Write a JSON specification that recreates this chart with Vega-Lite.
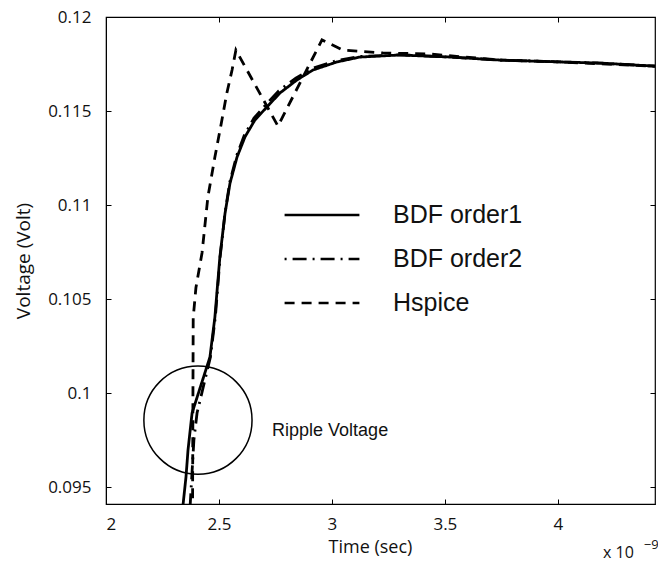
{
  "$schema": "https://vega.github.io/schema/vega-lite/v6.json",
  "width": 549,
  "height": 487,
  "autosize": "none",
  "padding": {"left": 106, "top": 17, "right": 3, "bottom": 62},
  "background": "white",
  "config": {
    "view": {"stroke": "black", "strokeWidth": 1.2},
    "axis": {"grid": false, "domainColor": "black", "tickColor": "black", "labelColor": "#111", "titleColor": "#111", "labelFont": "Open Sans", "titleFont": "Open Sans", "labelFontSize": 17, "titleFontSize": 18, "titleFontWeight": "normal", "labelFontWeight": 500}
  },
  "datasets": {
    "curves": [
      {"series": "BDF order1", "i": 1, "t": 2.336, "v": 0.0935},
      {"series": "BDF order1", "i": 2, "t": 2.354, "v": 0.09553},
      {"series": "BDF order1", "i": 3, "t": 2.363, "v": 0.09697},
      {"series": "BDF order1", "i": 4, "t": 2.381, "v": 0.09894},
      {"series": "BDF order1", "i": 5, "t": 2.46, "v": 0.10191},
      {"series": "BDF order1", "i": 6, "t": 2.482, "v": 0.10404},
      {"series": "BDF order1", "i": 7, "t": 2.504, "v": 0.10723},
      {"series": "BDF order1", "i": 8, "t": 2.527, "v": 0.10957},
      {"series": "BDF order1", "i": 9, "t": 2.549, "v": 0.11117},
      {"series": "BDF order1", "i": 10, "t": 2.58, "v": 0.11255},
      {"series": "BDF order1", "i": 11, "t": 2.615, "v": 0.11362},
      {"series": "BDF order1", "i": 12, "t": 2.659, "v": 0.11452},
      {"series": "BDF order1", "i": 13, "t": 2.712, "v": 0.11521},
      {"series": "BDF order1", "i": 14, "t": 2.77, "v": 0.11596},
      {"series": "BDF order1", "i": 15, "t": 2.845, "v": 0.11665},
      {"series": "BDF order1", "i": 16, "t": 2.916, "v": 0.11718},
      {"series": "BDF order1", "i": 17, "t": 3.022, "v": 0.11761},
      {"series": "BDF order1", "i": 18, "t": 3.124, "v": 0.11787},
      {"series": "BDF order1", "i": 19, "t": 3.301, "v": 0.11798},
      {"series": "BDF order1", "i": 20, "t": 3.522, "v": 0.11787},
      {"series": "BDF order1", "i": 21, "t": 3.743, "v": 0.11771},
      {"series": "BDF order1", "i": 22, "t": 4.009, "v": 0.11761},
      {"series": "BDF order1", "i": 23, "t": 4.186, "v": 0.11755},
      {"series": "BDF order1", "i": 24, "t": 4.44, "v": 0.11738},
      {"series": "BDF order2", "i": 1, "t": 2.37, "v": 0.0935},
      {"series": "BDF order2", "i": 2, "t": 2.389, "v": 0.0975},
      {"series": "BDF order2", "i": 3, "t": 2.403, "v": 0.09894},
      {"series": "BDF order2", "i": 4, "t": 2.462, "v": 0.10191},
      {"series": "BDF order2", "i": 5, "t": 2.484, "v": 0.10404},
      {"series": "BDF order2", "i": 6, "t": 2.505, "v": 0.10723},
      {"series": "BDF order2", "i": 7, "t": 2.527, "v": 0.10960},
      {"series": "BDF order2", "i": 8, "t": 2.548, "v": 0.11122},
      {"series": "BDF order2", "i": 9, "t": 2.578, "v": 0.11262},
      {"series": "BDF order2", "i": 10, "t": 2.612, "v": 0.11370},
      {"series": "BDF order2", "i": 11, "t": 2.655, "v": 0.11462},
      {"series": "BDF order2", "i": 12, "t": 2.707, "v": 0.11533},
      {"series": "BDF order2", "i": 13, "t": 2.765, "v": 0.11608},
      {"series": "BDF order2", "i": 14, "t": 2.84, "v": 0.11675},
      {"series": "BDF order2", "i": 15, "t": 2.912, "v": 0.11726},
      {"series": "BDF order2", "i": 16, "t": 3.02, "v": 0.11768},
      {"series": "BDF order2", "i": 17, "t": 3.124, "v": 0.11790},
      {"series": "BDF order2", "i": 18, "t": 3.301, "v": 0.11799},
      {"series": "BDF order2", "i": 19, "t": 3.522, "v": 0.11787},
      {"series": "BDF order2", "i": 20, "t": 3.743, "v": 0.11771},
      {"series": "BDF order2", "i": 21, "t": 4.009, "v": 0.11761},
      {"series": "BDF order2", "i": 22, "t": 4.186, "v": 0.11755},
      {"series": "BDF order2", "i": 23, "t": 4.44, "v": 0.11738},
      {"series": "Hspice", "i": 1, "t": 2.383, "v": 0.0935},
      {"series": "Hspice", "i": 2, "t": 2.386, "v": 0.1040},
      {"series": "Hspice", "i": 3, "t": 2.398, "v": 0.10560},
      {"series": "Hspice", "i": 4, "t": 2.425, "v": 0.10745},
      {"series": "Hspice", "i": 5, "t": 2.451, "v": 0.11043},
      {"series": "Hspice", "i": 6, "t": 2.482, "v": 0.11255},
      {"series": "Hspice", "i": 7, "t": 2.513, "v": 0.11452},
      {"series": "Hspice", "i": 8, "t": 2.535, "v": 0.11596},
      {"series": "Hspice", "i": 9, "t": 2.558, "v": 0.11718},
      {"series": "Hspice", "i": 10, "t": 2.575, "v": 0.11824},
      {"series": "Hspice", "i": 11, "t": 2.761, "v": 0.1142},
      {"series": "Hspice", "i": 12, "t": 2.956, "v": 0.11878},
      {"series": "Hspice", "i": 13, "t": 3.049, "v": 0.11824},
      {"series": "Hspice", "i": 14, "t": 3.226, "v": 0.11809},
      {"series": "Hspice", "i": 15, "t": 3.434, "v": 0.11803},
      {"series": "Hspice", "i": 16, "t": 3.743, "v": 0.11771},
      {"series": "Hspice", "i": 17, "t": 4.009, "v": 0.11761},
      {"series": "Hspice", "i": 18, "t": 4.44, "v": 0.11738}
    ]
  },
  "layer": [
    {
      "data": {"name": "curves"},
      "mark": {"type": "line", "clip": true, "color": "black", "strokeWidth": 2.8},
      "encoding": {
        "x": {"field": "t", "type": "quantitative", "scale": {"domain": [2, 4.43], "nice": false, "zero": false},
          "axis": {"orient": "bottom", "values": [2, 2.5, 3, 3.5, 4], "format": "~g", "tickSize": -5, "labelPadding": 17, "title": "Time (sec)", "titlePadding": 6, "titleX": 264}},
        "y": {"field": "v", "type": "quantitative", "scale": {"domain": [0.0941, 0.12], "nice": false, "zero": false},
          "axis": {"orient": "left", "values": [0.095, 0.1, 0.105, 0.11, 0.115, 0.12], "format": "~g", "tickSize": -5, "labelPadding": 20, "title": "Voltage (Volt)", "titleFontSize": 19, "titlePadding": 14}},
        "order": {"field": "i", "type": "quantitative"},
        "strokeDash": {"field": "series", "type": "nominal",
          "scale": {"domain": ["BDF order1", "BDF order2", "Hspice"], "range": [[1, 0], [2, 6, 14, 6], [10, 7]]},
          "legend": {"orient": "none", "legendX": 177, "legendY": 176, "title": null, "symbolType": "stroke", "symbolSize": 5600, "symbolStrokeWidth": 2.5, "symbolStrokeColor": "black", "labelFont": "Liberation Sans", "labelFontSize": 25, "labelColor": "#111", "labelOffset": 32, "rowPadding": 0, "clipHeight": 44, "labelLimit": 300}}
      }
    },
    {
      "data": {"values": [{"t": 2.407, "v": 0.09856}]},
      "mark": {"type": "point", "shape": "circle", "filled": false, "size": 11700, "stroke": "black", "opacity": 1, "strokeWidth": 1.5, "clip": false},
      "encoding": {
        "x": {"field": "t", "type": "quantitative", "axis": {"orient": "top", "values": [2, 2.5, 3, 3.5, 4], "labels": false, "domain": false, "tickSize": -5, "title": null}},
        "y": {"field": "v", "type": "quantitative", "axis": {"orient": "right", "values": [0.095, 0.1, 0.105, 0.11, 0.115, 0.12], "labels": false, "domain": false, "tickSize": -5, "title": null}}
      }
    },
    {
      "data": {"values": [{"t": 2.735, "v": 0.09798, "label": "Ripple Voltage"}]},
      "mark": {"type": "text", "align": "left", "baseline": "middle", "font": "Liberation Sans", "fontSize": 18, "color": "#111"},
      "encoding": {
        "x": {"field": "t", "type": "quantitative", "axis": null},
        "y": {"field": "v", "type": "quantitative", "axis": null},
        "text": {"field": "label"}
      }
    },
    {
      "data": {"values": [{"t": 4.2, "v": 0.0915, "label": "x 10"}]},
      "mark": {"type": "text", "align": "left", "baseline": "middle", "font": "Open Sans", "fontSize": 16, "color": "#111", "clip": false},
      "encoding": {
        "x": {"field": "t", "type": "quantitative", "axis": null},
        "y": {"field": "v", "type": "quantitative", "axis": null},
        "text": {"field": "label"}
      }
    },
    {
      "data": {"values": [{"t": 4.38, "v": 0.0919, "label": "\u22129"}]},
      "mark": {"type": "text", "align": "left", "baseline": "middle", "font": "Open Sans", "fontSize": 13, "color": "#111", "clip": false},
      "encoding": {
        "x": {"field": "t", "type": "quantitative", "axis": null},
        "y": {"field": "v", "type": "quantitative", "axis": null},
        "text": {"field": "label"}
      }
    }
  ],
  "resolve": {"axis": {"x": "independent", "y": "independent"}}
}
